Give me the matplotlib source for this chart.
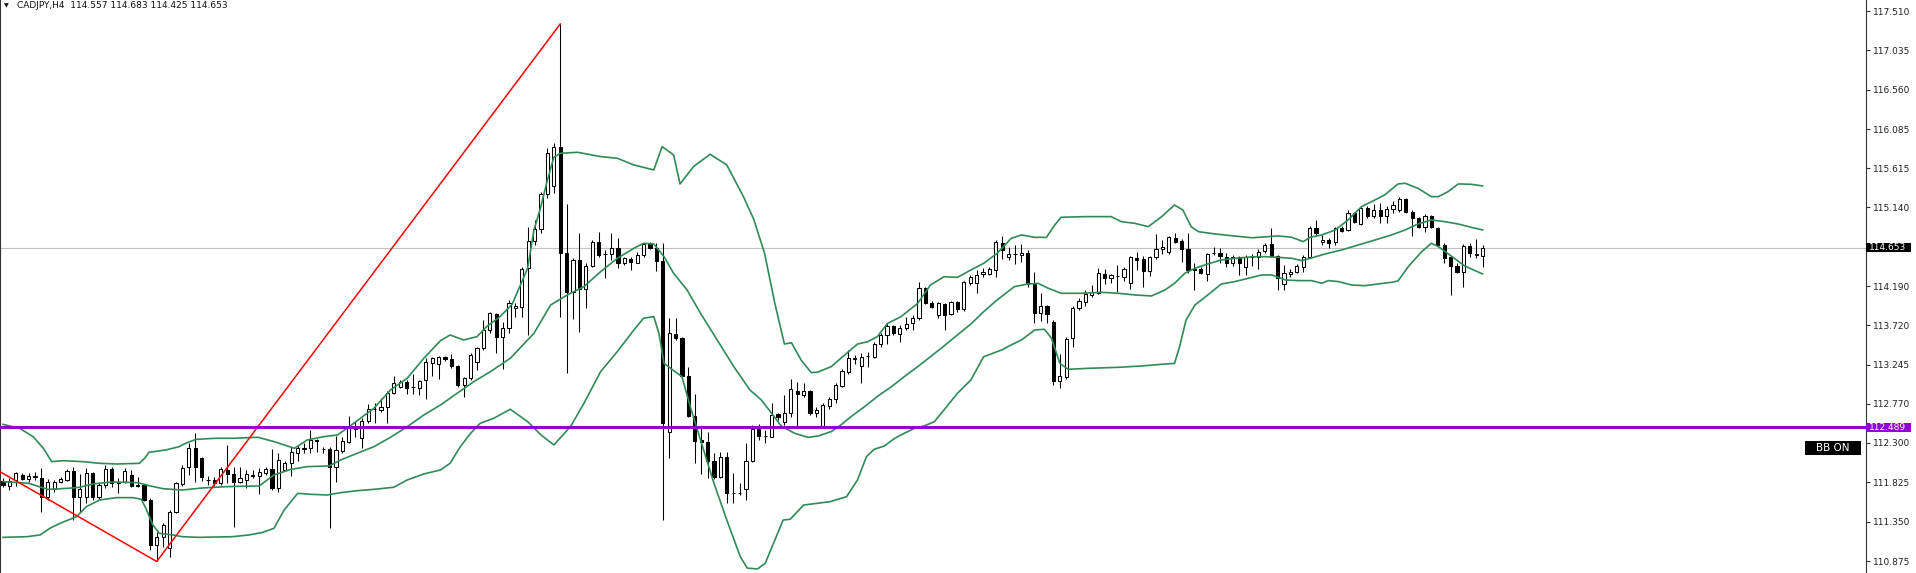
import numpy as np
import matplotlib
matplotlib.use("Agg")
import matplotlib.pyplot as plt
from matplotlib.patches import Rectangle

plt.rcParams['font.family'] = ['DejaVu Sans']

symbol = "CADJPY,H4"

# H4 candles (one row = 10 bars)
opens = [
    111.841, 111.781, 111.853, 111.917, 111.869, 111.897, 111.881, 111.644, 111.740, 111.833,
    111.853, 111.966, 111.652, 111.652, 111.941, 111.652, 111.793, 111.982, 111.813, 111.833,
    111.909, 111.789, 111.789, 111.612, 111.065, 111.169, 111.029, 111.471, 111.801, 112.014,
    112.243, 112.122, 111.857, 111.853, 111.813, 111.974, 111.925, 111.833, 111.853, 111.914,
    111.901, 111.942, 111.982, 111.753, 111.974, 112.054, 112.183, 112.223, 112.235, 112.336,
    112.225, 112.223, 112.014, 112.207, 112.316, 112.496, 112.356, 112.569, 112.708, 112.698,
    112.730, 112.899, 112.979, 113.039, 112.973, 112.959, 113.059, 113.269, 113.252, 113.333,
    113.309, 113.228, 112.999, 113.080, 113.273, 113.441, 113.663, 113.856, 113.574, 113.683,
    113.924, 113.944, 114.407, 114.736, 114.881, 115.303, 115.400, 115.866, 114.596, 114.125,
    114.507, 114.153, 114.439, 114.728, 114.578, 114.580, 114.648, 114.467, 114.515, 114.475,
    114.568, 114.700, 114.648, 114.499, 112.436, 113.615, 113.562, 113.108, 112.625, 112.336,
    112.316, 112.087, 111.893, 112.127, 111.702, 111.698, 111.741, 112.087, 112.470, 112.383,
    112.375, 112.645, 112.556, 112.657, 112.930, 112.878, 112.930, 112.665, 112.504, 112.745,
    112.826, 112.991, 113.159, 113.318, 113.228, 113.346, 113.332, 113.493, 113.602, 113.710,
    113.614, 113.682, 113.742, 113.803, 114.165, 113.992, 113.843, 113.976, 113.855, 114.004,
    113.911, 114.233, 114.225, 114.338, 114.338, 114.386, 114.716, 114.547, 114.577, 114.563,
    114.595, 114.217, 113.872, 113.952, 113.763, 113.047, 113.100, 113.562, 113.924, 114.004,
    114.085, 114.105, 114.334, 114.286, 114.316, 114.306, 114.234, 114.535, 114.515, 114.378,
    114.539, 114.636, 114.607, 114.768, 114.740, 114.636, 114.396, 114.394, 114.334, 114.593,
    114.595, 114.547, 114.475, 114.539, 114.419, 114.537, 114.547, 114.620, 114.696, 114.555,
    114.214, 114.338, 114.366, 114.427, 114.539, 114.889, 114.728, 114.748, 114.728, 114.889,
    114.869, 115.070, 114.941, 115.130, 115.038, 115.110, 115.038, 115.118, 115.110, 115.239,
    115.090, 115.010, 114.909, 115.042, 114.889, 114.688, 114.539, 114.435, 114.366, 114.676,
    114.577, 114.557]

highs = [
    111.873, 111.873, 111.954, 111.933, 111.933, 111.954, 111.994, 111.861, 111.853, 111.885,
    111.982, 112.014, 111.925, 111.994, 111.954, 111.813, 112.034, 112.014, 111.873, 111.994,
    111.974, 111.893, 111.793, 111.632, 111.230, 111.330, 111.491, 111.833, 112.034, 112.295,
    112.424, 112.134, 111.901, 111.885, 112.014, 112.275, 112.014, 112.014, 111.974, 111.974,
    111.994, 112.014, 112.223, 112.175, 112.086, 112.255, 112.275, 112.296, 112.456, 112.344,
    112.255, 112.255, 112.384, 112.376, 112.625, 112.557, 112.597, 112.770, 112.778, 112.838,
    112.931, 113.108, 113.059, 113.059, 113.132, 113.059, 113.321, 113.341, 113.349, 113.349,
    113.373, 113.240, 113.100, 113.381, 113.461, 113.783, 113.884, 113.864, 113.763, 114.024,
    113.993, 114.427, 114.901, 114.990, 115.331, 115.854, 115.923, 117.354, 115.183, 114.527,
    114.829, 114.467, 114.748, 114.849, 114.628, 114.829, 114.769, 114.547, 114.547, 114.608,
    114.716, 114.728, 114.708, 114.708, 113.804, 113.804, 113.574, 113.212, 112.891, 112.497,
    112.436, 112.175, 112.195, 112.195, 111.934, 111.813, 112.304, 112.517, 112.530, 112.456,
    112.785, 112.665, 112.878, 113.067, 113.039, 113.019, 112.938, 112.737, 112.777, 112.850,
    113.019, 113.188, 113.421, 113.361, 113.389, 113.401, 113.521, 113.622, 113.751, 113.722,
    113.722, 113.815, 113.843, 114.245, 114.185, 114.016, 114.004, 113.984, 114.016, 114.016,
    114.257, 114.326, 114.386, 114.406, 114.426, 114.748, 114.796, 114.660, 114.688, 114.700,
    114.628, 114.366, 114.105, 113.964, 113.783, 113.373, 113.582, 113.952, 114.045, 114.145,
    114.205, 114.407, 114.394, 114.338, 114.447, 114.419, 114.555, 114.607, 114.555, 114.555,
    114.821, 114.748, 114.796, 114.837, 114.756, 114.829, 114.467, 114.419, 114.595, 114.668,
    114.648, 114.595, 114.567, 114.555, 114.567, 114.579, 114.636, 114.708, 114.889, 114.567,
    114.447, 114.394, 114.459, 114.567, 114.917, 114.990, 114.809, 114.768, 114.909, 114.917,
    115.110, 115.090, 115.150, 115.158, 115.183, 115.199, 115.158, 115.223, 115.271, 115.251,
    115.110, 115.030, 115.062, 115.050, 114.909, 114.708, 114.555, 114.467, 114.700, 114.708,
    114.756, 114.683]

lows = [
    111.765, 111.732, 111.781, 111.853, 111.833, 111.853, 111.471, 111.612, 111.712, 111.821,
    111.845, 111.370, 111.471, 111.571, 111.612, 111.620, 111.752, 111.765, 111.692, 111.813,
    111.765, 111.773, 111.604, 111.009, 110.870, 111.049, 110.928, 111.451, 111.781, 111.913,
    111.833, 111.845, 111.793, 111.781, 111.793, 111.821, 111.290, 111.813, 111.753, 111.873,
    111.684, 111.914, 111.733, 111.712, 111.966, 111.901, 112.086, 112.183, 112.175, 112.195,
    112.183, 111.270, 111.833, 112.175, 112.296, 112.376, 112.235, 112.537, 112.537, 112.677,
    112.545, 112.891, 112.959, 112.891, 112.891, 112.878, 112.826, 113.108, 113.067, 113.293,
    113.200, 112.979, 112.858, 113.059, 113.180, 113.421, 113.622, 113.381, 113.188, 113.622,
    113.824, 113.816, 113.603, 114.688, 114.829, 115.251, 115.311, 113.824, 113.148, 113.792,
    113.643, 113.924, 114.427, 114.539, 114.286, 114.507, 114.407, 114.447, 114.387, 114.467,
    114.547, 114.636, 114.379, 111.371, 112.115, 113.542, 113.100, 112.617, 112.054, 111.926,
    111.873, 111.861, 111.873, 111.572, 111.580, 111.672, 111.612, 112.075, 112.330, 112.295,
    112.367, 112.576, 112.516, 112.617, 112.504, 112.858, 112.637, 112.617, 112.496, 112.705,
    112.785, 112.978, 113.131, 113.252, 113.019, 113.220, 113.320, 113.461, 113.493, 113.602,
    113.521, 113.662, 113.662, 113.783, 113.976, 113.923, 113.803, 113.662, 113.843, 113.883,
    113.895, 114.205, 114.104, 114.305, 114.326, 114.305, 114.514, 114.506, 114.459, 114.487,
    114.185, 113.751, 113.775, 113.743, 112.999, 112.959, 113.067, 113.453, 113.904, 113.952,
    114.057, 114.097, 114.217, 114.225, 114.125, 114.258, 114.153, 114.386, 114.185, 114.314,
    114.515, 114.579, 114.579, 114.708, 114.487, 114.354, 114.145, 114.338, 114.258, 114.567,
    114.467, 114.419, 114.435, 114.326, 114.326, 114.435, 114.394, 114.587, 114.547, 114.145,
    114.145, 114.306, 114.354, 114.366, 114.527, 114.797, 114.688, 114.648, 114.688, 114.849,
    114.861, 114.949, 114.929, 115.010, 115.010, 114.949, 114.949, 115.070, 115.090, 115.070,
    114.797, 114.889, 114.849, 114.889, 114.668, 114.467, 114.085, 114.346, 114.185, 114.547,
    114.527, 114.425]

closes = [
    111.793, 111.841, 111.933, 111.869, 111.901, 111.893, 111.652, 111.833, 111.833, 111.865,
    111.958, 111.652, 111.740, 111.941, 111.652, 111.789, 111.982, 111.813, 111.833, 111.966,
    111.781, 111.785, 111.612, 111.069, 111.169, 111.310, 111.467, 111.813, 112.002, 112.235,
    112.014, 111.885, 111.853, 111.821, 111.982, 111.925, 111.833, 111.873, 111.926, 111.901,
    111.954, 111.982, 111.753, 112.094, 112.054, 112.195, 112.235, 112.243, 112.336, 112.324,
    112.221, 112.014, 112.215, 112.328, 112.476, 112.468, 112.569, 112.706, 112.704, 112.738,
    112.899, 113.019, 113.039, 112.959, 112.969, 113.047, 113.273, 113.329, 113.333, 113.313,
    113.228, 112.999, 113.080, 113.361, 113.441, 113.663, 113.864, 113.574, 113.683, 113.984,
    113.952, 114.399, 114.736, 114.881, 115.303, 115.802, 115.866, 114.596, 114.125, 114.507,
    114.153, 114.439, 114.728, 114.568, 114.574, 114.648, 114.467, 114.527, 114.479, 114.568,
    114.700, 114.648, 114.499, 112.537, 113.623, 113.562, 113.108, 112.625, 112.328, 112.316,
    112.087, 111.893, 112.127, 111.692, 111.698, 111.702, 112.087, 112.464, 112.383, 112.387,
    112.637, 112.609, 112.665, 112.946, 112.890, 112.930, 112.665, 112.697, 112.757, 112.826,
    112.999, 113.172, 113.320, 113.322, 113.340, 113.350, 113.493, 113.602, 113.710, 113.622,
    113.690, 113.734, 113.803, 114.165, 113.992, 113.944, 113.984, 113.843, 114.004, 113.911,
    114.245, 114.297, 114.326, 114.366, 114.394, 114.728, 114.627, 114.583, 114.581, 114.595,
    114.217, 113.872, 113.952, 113.856, 113.047, 113.108, 113.550, 113.932, 114.016, 114.097,
    114.117, 114.354, 114.286, 114.322, 114.312, 114.394, 114.547, 114.507, 114.378, 114.539,
    114.636, 114.668, 114.780, 114.728, 114.636, 114.386, 114.392, 114.354, 114.579, 114.597,
    114.555, 114.475, 114.539, 114.475, 114.539, 114.541, 114.607, 114.688, 114.555, 114.286,
    114.346, 114.366, 114.435, 114.539, 114.889, 114.837, 114.748, 114.716, 114.889, 114.861,
    115.070, 114.969, 115.130, 115.038, 115.110, 115.038, 115.118, 115.171, 115.239, 115.090,
    115.010, 114.909, 115.042, 114.909, 114.688, 114.527, 114.435, 114.366, 114.676, 114.596,
    114.573, 114.653]

# bollinger bands as (bar index, price) samples
upper_band = [
    (0, 112.524), (2.6, 112.476), (4.7, 112.376), (6.3, 112.235), (7.6, 112.074), (9.4, 112.086),
    (12.5, 112.074), (15.1, 112.054), (17.7, 112.046), (21.3, 112.054), (22.1, 112.114), (22.8, 112.187),
    (25.4, 112.215), (27.5, 112.255), (28.5, 112.295), (30.1, 112.343), (33.2, 112.356), (35.8, 112.356),
    (38.4, 112.364), (39.8, 112.368), (42.3, 112.316), (45.5, 112.235), (47.5, 112.336), (50.1, 112.376),
    (52.2, 112.396), (53.7, 112.476), (55.8, 112.597), (57.9, 112.718), (60.5, 112.939), (63.1, 113.080),
    (65.7, 113.321), (68.3, 113.534), (69.8, 113.602), (71.9, 113.542), (74.0, 113.582), (75.5, 113.703),
    (77.6, 113.823), (79.5, 113.974), (81.9, 114.407), (82.9, 114.869), (83.9, 115.130), (85.0, 115.472),
    (86.0, 115.746), (87.0, 115.794), (89.7, 115.806), (93.3, 115.754), (95.9, 115.734), (98.5, 115.653),
    (101.6, 115.593), (102.9, 115.874), (104.7, 115.774), (105.7, 115.424), (107.8, 115.633), (110.4, 115.782),
    (113.0, 115.653), (115.6, 115.271), (117.2, 115.000), (118.9, 114.587), (120.5, 113.984), (122.0, 113.493),
    (123.1, 113.509), (124.6, 113.300), (126.2, 113.147), (127.2, 113.155), (129.3, 113.220), (131.4, 113.361),
    (133.4, 113.493), (135.0, 113.521), (136.5, 113.582), (138.1, 113.742), (140.2, 113.823), (142.8, 113.984),
    (144.8, 114.205), (146.9, 114.305), (149.0, 114.297), (151.1, 114.386), (153.1, 114.466), (155.2, 114.587),
    (157.4, 114.768), (159.0, 114.809), (161.1, 114.780), (162.9, 114.780), (164.2, 114.929), (165.2, 115.022),
    (168.9, 115.030), (173.0, 115.030), (174.6, 114.969), (176.7, 114.949), (178.8, 114.909), (180.9, 115.030),
    (182.9, 115.170), (184.2, 115.110), (185.5, 114.909), (186.6, 114.849), (189.2, 114.821), (192.3, 114.796),
    (195.0, 114.775), (199.1, 114.797), (201.2, 114.781), (203.0, 114.728), (204.1, 114.781), (205.9, 114.809),
    (208.0, 114.869), (210.0, 114.990), (212.1, 115.150), (214.2, 115.231), (215.7, 115.291), (217.8, 115.424),
    (218.9, 115.432), (220.9, 115.372), (223.0, 115.271), (224.1, 115.271), (225.6, 115.331), (227.2, 115.424),
    (229.2, 115.420), (231.0, 115.400)]

middle_band = [
    (0, 111.833), (4, 111.813), (7, 111.740), (10, 111.752), (12, 111.765), (14, 111.805),
    (17, 111.829), (21, 111.821), (23, 111.781), (25, 111.748), (28, 111.732), (31, 111.756),
    (35, 111.773), (38, 111.778), (40, 111.781), (42.3, 111.914), (45, 111.982), (47.5, 112.014),
    (50.9, 112.022), (52.7, 112.094), (55.3, 112.175), (57.9, 112.255), (60.5, 112.368), (63.1, 112.496),
    (65.7, 112.637), (68.3, 112.758), (70.9, 112.899), (73.5, 113.039), (76.1, 113.160), (79.2, 113.321),
    (82.9, 113.623), (85.5, 113.964), (88.1, 114.085), (90.7, 114.186), (93.3, 114.366), (95.9, 114.527),
    (98.5, 114.648), (100.0, 114.708), (101.6, 114.700), (103.2, 114.547), (104.7, 114.346), (106.8, 114.145),
    (108.9, 113.864), (111.5, 113.542), (114.1, 113.220), (116.6, 112.939), (118.4, 112.818), (120.0, 112.657),
    (121.5, 112.504), (123.6, 112.416), (125.7, 112.367), (127.2, 112.383), (129.3, 112.436), (130.8, 112.516),
    (132.4, 112.617), (134.5, 112.737), (136.6, 112.866), (138.7, 112.978), (140.7, 113.099), (142.8, 113.220),
    (144.8, 113.340), (146.9, 113.469), (149.0, 113.602), (151.1, 113.734), (153.1, 113.883), (155.2, 114.024),
    (157.9, 114.185), (160.0, 114.217), (161.6, 114.225), (163.2, 114.165), (165.2, 114.105), (168.3, 114.105),
    (171.5, 114.117), (174.1, 114.105), (176.7, 114.085), (179.3, 114.073), (181.4, 114.145), (182.9, 114.225),
    (184.5, 114.346), (186.1, 114.407), (188.1, 114.459), (190.2, 114.507), (192.3, 114.527), (195.0, 114.545),
    (197.0, 114.547), (199.1, 114.539), (201.2, 114.527), (202.8, 114.499), (204.1, 114.527), (206.4, 114.579),
    (209.0, 114.628), (211.6, 114.688), (214.2, 114.748), (216.8, 114.809), (218.9, 114.869), (220.9, 114.941),
    (223.0, 114.990), (225.1, 114.969), (227.2, 114.941), (229.2, 114.901), (231.0, 114.869)]

lower_band = [
    (0, 111.161), (3.7, 111.169), (5.8, 111.190), (7.3, 111.270), (8.9, 111.330), (11.5, 111.411),
    (13.0, 111.531), (15.1, 111.612), (17.7, 111.640), (20.3, 111.640), (21.6, 111.620), (22.3, 111.511),
    (23.4, 111.310), (24.4, 111.210), (26.5, 111.190), (28.0, 111.169), (30.6, 111.161), (35.8, 111.169),
    (38.4, 111.190), (40.5, 111.220), (42.3, 111.270), (43.9, 111.491), (46.0, 111.692), (48.1, 111.680),
    (50.6, 111.672), (52.7, 111.700), (55.3, 111.724), (57.9, 111.740), (61.0, 111.765), (63.1, 111.853),
    (65.7, 111.926), (68.3, 111.974), (69.8, 112.054), (71.4, 112.255), (73.0, 112.416), (74.5, 112.537),
    (76.6, 112.597), (79.2, 112.706), (81.9, 112.557), (84.0, 112.396), (86.0, 112.276), (88.6, 112.497),
    (90.7, 112.778), (93.3, 113.160), (95.9, 113.401), (98.5, 113.663), (100.0, 113.804), (101.6, 113.824),
    (102.4, 113.623), (103.2, 113.261), (104.7, 113.172), (106.0, 113.100), (107.3, 112.738), (108.9, 112.336),
    (111.0, 111.813), (113.0, 111.371), (115.1, 110.929), (116.2, 110.790), (117.8, 110.780), (119.0, 110.848),
    (121.8, 111.370), (122.9, 111.379), (125.0, 111.551), (129.1, 111.591), (131.7, 111.651), (133.4, 111.853),
    (134.8, 112.134), (136.0, 112.223), (137.6, 112.263), (139.2, 112.355), (140.7, 112.416), (142.3, 112.476),
    (143.8, 112.504), (145.4, 112.556), (146.9, 112.697), (149.0, 112.898), (151.1, 113.059), (153.1, 113.340),
    (155.9, 113.421), (157.4, 113.482), (159.0, 113.542), (161.1, 113.663), (162.6, 113.671), (163.7, 113.562),
    (165.0, 113.260), (166.3, 113.188), (169.4, 113.200), (174.1, 113.212), (177.7, 113.228), (180.8, 113.248),
    (182.9, 113.260), (183.7, 113.462), (184.7, 113.783), (186.1, 113.964), (188.1, 114.085), (190.2, 114.217),
    (192.3, 114.246), (194.4, 114.286), (196.5, 114.326), (198.1, 114.326), (200.2, 114.266), (202.2, 114.258),
    (204.3, 114.258), (205.9, 114.226), (206.9, 114.258), (208.5, 114.246), (210.5, 114.206), (212.6, 114.197),
    (214.7, 114.218), (216.8, 114.238), (217.8, 114.254), (219.4, 114.427), (221.5, 114.608), (223.0, 114.708),
    (224.1, 114.668), (226.1, 114.555), (228.2, 114.435), (231.0, 114.338)]

# zigzag (red) turning points
zigzag_idx = [-0.47, 24, 87]
zigzag_val = [111.953, 110.870, 117.354]

level_line = 112.489
axis_ticks = [117.510, 117.035, 116.560, 116.085, 115.615, 115.140, 114.190,
              113.720, 113.245, 112.770, 112.300, 111.825, 111.350, 110.875]

opens = np.array(opens)
highs = np.array(highs)
lows = np.array(lows)
closes = np.array(closes)
idx = np.arange(len(opens))
last = closes[-1]

fig = plt.figure(figsize=(19.16, 5.73), dpi=100)
ax = fig.add_axes([0, 0, 1866 / 1916, 1])
ax.set_xlim(-0.47, 290.86)
ax.set_ylim(110.731, 117.643)

# bid line
ax.axhline(last, color='#c0c0c0', lw=0.8, zorder=1)

# candles
ax.vlines(idx, lows, highs, color='black', lw=0.75, zorder=2)
up = closes >= opens
ax.bar(idx[up], closes[up] - opens[up], bottom=opens[up], width=0.5,
       facecolor='white', edgecolor='black', linewidth=0.75, zorder=3)
ax.bar(idx[~up], opens[~up] - closes[~up], bottom=closes[~up], width=0.5,
       facecolor='black', edgecolor='black', linewidth=0.75, zorder=3)

# bands
for band in (upper_band, middle_band, lower_band):
    b = np.array(band)
    ax.plot(b[:, 0], b[:, 1], color='#2e8b57', lw=1.2, zorder=4)

ax.plot(zigzag_idx, zigzag_val, color='#ff0000', lw=1.1, zorder=5)
ax.axhline(level_line, color='#9400d3', lw=2.2, zorder=6)

# axes look
for s in ('top', 'bottom'):
    ax.spines[s].set_visible(False)
ax.spines['left'].set_color('#333333')
ax.spines['right'].set_color('#333333')
ax.spines['right'].set_linewidth(0.8)
ax.xaxis.set_visible(False)
ax.yaxis.tick_right()
ax.set_yticks(axis_ticks)
ax.yaxis.set_major_formatter(lambda v, p: f'{v:.3f}')
ax.tick_params(axis='y', direction='out', length=3, width=0.8, pad=2,
               labelsize=6.5, labelcolor='#222222', color='#333333')

# price tags on the scale
ytr = ax.get_yaxis_transform()
for val, col in ((last, 'black'), (level_line, '#9400d3')):
    ax.add_patch(Rectangle((1.0, val - 0.055), 45 / 1866, 0.11, transform=ytr,
                           facecolor=col, edgecolor='none', clip_on=False, zorder=10))
    ax.text(1.0 + 3 / 1866, val, f'{val:.3f}', transform=ytr, color='white',
            fontsize=6.5, va='center', ha='left', clip_on=False, zorder=11)

# BB ON button
ax.add_patch(Rectangle((1805 / 1866, 1 - 455 / 573), 56 / 1866, 14.3 / 573,
                       transform=ax.transAxes, facecolor='black', edgecolor='none', zorder=10))
ax.text(1833 / 1866, 1 - 448 / 573, 'BB ON', transform=ax.transAxes, color='white',
        fontsize=7.5, ha='center', va='center', zorder=11)

# header
ax.text(4 / 1866, 1 - 6 / 573, '▼', transform=ax.transAxes, fontsize=4.5,
        va='center', ha='left', color='#111111')
ax.text(17 / 1866, 1 - 6 / 573,
        f'{symbol}  {opens[-1]:.3f} {highs[-1]:.3f} {lows[-1]:.3f} {closes[-1]:.3f}',
        transform=ax.transAxes, fontsize=6.5, va='center', ha='left', color='#111111')

fig.savefig('out.png', dpi=100, facecolor='white')
